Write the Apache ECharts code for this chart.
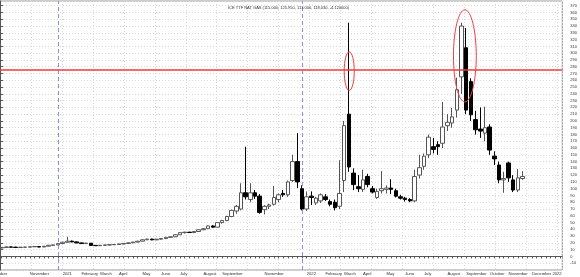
<!DOCTYPE html>
<html><head><meta charset="utf-8">
<script src="https://cdn.jsdelivr.net/npm/echarts@6/dist/echarts.min.js"></script>
<style>html,body{margin:0;padding:0;background:#fff}#c{width:580px;height:277px}</style>
</head><body><div id="c"></div>
<script>
const titleText = 'ICE TTF NAT GAS (115.000, 125.950, 113.000, 118.030, -4.120000)';

// weekly bars (Friday dates)
const weeks = [
'2020-10-09','2020-10-16','2020-10-23','2020-10-30','2020-11-06','2020-11-13','2020-11-20','2020-11-27',
'2020-12-04','2020-12-11','2020-12-18','2020-12-25',
'2021-01-01','2021-01-08','2021-01-15','2021-01-22','2021-01-29','2021-02-05','2021-02-12','2021-02-19','2021-02-26',
'2021-03-05','2021-03-12','2021-03-19','2021-03-26','2021-04-02','2021-04-09','2021-04-16','2021-04-23','2021-04-30',
'2021-05-07','2021-05-14','2021-05-21','2021-05-28','2021-06-04','2021-06-11','2021-06-18','2021-06-25',
'2021-07-02','2021-07-09','2021-07-16','2021-07-23','2021-07-30','2021-08-06','2021-08-13','2021-08-20','2021-08-27',
'2021-09-03','2021-09-10','2021-09-17','2021-09-24','2021-10-01','2021-10-08','2021-10-15','2021-10-22','2021-10-29',
'2021-11-05','2021-11-12','2021-11-19','2021-11-26','2021-12-03','2021-12-10','2021-12-17','2021-12-24','2021-12-31',
'2022-01-07','2022-01-14','2022-01-21','2022-01-28','2022-02-04','2022-02-11','2022-02-18','2022-02-25',
'2022-03-04','2022-03-11','2022-03-18','2022-03-25','2022-04-01','2022-04-08','2022-04-15','2022-04-22','2022-04-29',
'2022-05-06','2022-05-13','2022-05-20','2022-05-27','2022-06-03','2022-06-10','2022-06-17','2022-06-24',
'2022-07-01','2022-07-08','2022-07-15','2022-07-22','2022-07-29','2022-08-05','2022-08-12','2022-08-19','2022-08-26',
'2022-09-02','2022-09-09','2022-09-16','2022-09-23','2022-09-30','2022-10-07','2022-10-14','2022-10-21','2022-10-28',
'2022-11-04','2022-11-11','2022-11-18','2022-11-25'
];
const opens = [
12.5,13.3,14.0,13.7,13.3,13.6,13.8,14.3,14.6,13.9,15.1,16.5,
17.0,19.0,21.0,22.5,21.5,20.0,19.0,19.6,16.3,
15.9,16.5,16.9,17.3,17.7,18.4,19.2,20.1,21.2,
22.5,24.6,25.6,24.5,25.5,26.4,28.2,29.0,
32.0,35.2,35.8,35.3,36.8,39.4,41.0,45.0,43.2,
50.0,53.0,59.0,67.0,70.0,94.0,84.0,94.0,89.0,
69.0,74.0,77.0,84.0,93.0,91.0,112.0,140.0,100.0,
70.0,89.0,79.0,82.0,88.0,81.0,80.0,74.0,
112.0,210.0,123.0,103.0,99.0,118.0,100.0,87.0,97.0,
99.0,101.0,97.0,88.0,86.0,84.0,82.0,120.0,
133.0,150.0,162.0,165.0,167.0,193.0,197.0,216.0,265.0,
308.0,258.0,202.0,188.0,182.0,191.0,148.0,135.0,113.0,
138.0,113.0,98.0,115.0
];
const highs = [
13.6,14.3,14.4,14.2,13.9,14.0,14.6,14.9,14.9,15.3,16.8,17.3,
19.3,21.5,29.0,23.5,22.0,20.5,20.2,19.8,16.8,
16.8,17.2,17.6,17.9,18.6,19.5,20.4,21.6,22.9,
25.0,26.0,26.1,25.9,26.8,28.5,29.4,32.5,
35.6,36.5,36.4,37.2,39.8,41.5,45.6,46.0,50.5,
54.0,60.0,69.0,76.0,108.0,162.0,108.0,98.0,92.0,
76.0,78.0,104.0,93.0,98.0,112.0,150.0,182.0,105.0,
96.0,96.0,88.0,93.0,92.0,84.0,84.0,142.0,
200.0,345.0,130.0,120.0,128.0,122.0,104.0,100.0,126.0,
105.0,114.0,100.0,91.0,88.0,86.0,128.0,150.0,
152.0,180.0,175.0,170.0,228.0,210.0,219.0,264.0,345.0,
337.0,263.0,215.0,220.0,221.0,195.0,155.0,140.0,125.0,
140.0,120.0,129.0,125.95
];
const lows = [
12.3,13.0,13.4,12.9,12.9,13.2,13.5,14.0,13.5,13.8,15.0,16.2,
16.9,18.8,20.5,20.8,19.6,18.5,18.6,16.0,15.5,
15.6,16.1,16.4,17.0,17.4,18.0,18.9,19.8,21.0,
22.3,24.2,24.0,24.3,25.0,26.0,27.8,28.8,
31.8,33.8,34.5,35.0,36.5,38.8,40.6,42.5,42.8,
48.5,52.0,58.0,63.0,68.0,84.0,80.0,85.0,63.0,
62.0,70.0,75.0,80.0,88.0,88.0,110.0,101.0,68.0,
67.0,76.0,76.0,79.0,82.0,74.0,68.0,70.0,
95.0,125.0,98.0,95.0,95.0,102.0,93.0,85.0,93.0,
93.0,92.0,87.0,84.0,81.0,80.0,80.0,115.0,
128.0,145.0,152.0,150.0,160.0,185.0,190.0,205.0,240.0,
210.0,200.0,180.0,175.0,170.0,150.0,135.0,108.0,94.0,
110.0,95.0,95.0,113.0
];
const closes = [
13.3,14.0,13.7,13.3,13.6,13.8,14.3,14.6,13.9,15.1,16.5,17.0,
19.0,21.0,22.5,21.5,20.0,19.0,19.6,16.3,15.9,
16.5,16.9,17.3,17.7,18.4,19.2,20.1,21.2,22.5,
24.6,25.6,24.5,25.5,26.4,28.2,29.0,32.0,
35.2,35.8,35.3,36.8,39.4,41.0,45.0,43.2,50.0,
53.0,59.0,68.0,74.0,94.0,88.0,94.0,89.0,65.0,
74.0,76.0,87.0,91.0,91.0,110.0,140.0,110.0,70.0,
88.0,87.0,86.0,91.0,84.0,77.0,72.0,93.0,
193.0,132.0,106.0,100.0,113.0,106.0,95.0,96.0,100.0,
101.0,99.0,89.0,86.0,84.0,82.0,118.0,131.0,
148.0,176.0,158.0,162.0,191.0,198.0,206.0,246.0,340.0,
216.0,209.0,187.0,185.0,190.0,157.0,144.0,113.0,115.0,
116.0,98.0,116.0,118.03
];

// axis tick labels (placed at the first weekly bar of each month)
const monthTicks = ['2020-09-25','2020-11-20','2021-01-08','2021-02-05','2021-03-05','2021-04-02','2021-05-07','2021-06-04',
  '2021-07-02','2021-08-06','2021-09-03','2021-11-05','2022-01-07','2022-02-04','2022-03-04','2022-04-01',
  '2022-05-06','2022-06-03','2022-07-01','2022-08-05','2022-09-02','2022-10-07','2022-11-04','2022-12-09'];
const monthNames = ['October','November','2021','February','March','April','May','June',
  'July','August','September','November','2022','February','March','April',
  'May','June','July','August','September','October','November','December 2022'];

const yearMarks = ['2021-01-01','2022-01-01'];
const resistanceLevel = 275;
// circled areas: [fromDate, toDate, lowValue, highValue]
const circledFrom = ['2022-03-04','2022-08-14'];
const circledTo   = ['2022-03-19','2022-09-17'];
const circledLow  = [245, 228];
const circledHigh = [302, 364];

const ts = (s, h) => { const p = s.split('-').map(Number); return new Date(p[0], p[1]-1, p[2], h || 0, 0).getTime(); };
const xMin = ts('2020-10-06', 14.2);
const xMax = ts('2023-01-23', 9.6);
const DAY = 86400000;

const tickVals = [];
for (let t = ts(weeks[0]); t <= xMax; t += 7 * DAY) tickVals.push(t);
const labelMap = {};
monthTicks.forEach((d, i) => { labelMap[ts(d)] = monthNames[i]; });
const inRangeLabels = monthTicks.map(d => ts(d)).filter(t => t >= xMin && t <= xMax);

const FONT = 'Liberation Sans, Arial, sans-serif';
const GRID = '#dadada';
const chart = echarts.init(document.getElementById('c'), null, {renderer: 'canvas'});
chart.setOption({
  animation: false,
  backgroundColor: '#fff',
  title: {
    text: titleText, left: 223, top: 1,
    textStyle: {fontSize: 4, fontWeight: 'normal', color: '#333', fontFamily: FONT}
  },
  grid: {left: 0, right: 17, top: 1, bottom: 7, show: true, borderColor: '#999', borderWidth: 1, backgroundColor: '#fff'},
  xAxis: [{
    type: 'value', min: xMin, max: xMax, scale: true,
    axisLine: {show: true, lineStyle: {color: '#555', width: 1}},
    axisTick: {show: true, customValues: tickVals, length: 2, lineStyle: {color: '#555'}},
    axisLabel: {
      customValues: inRangeLabels, hideOverlap: false,
      formatter: v => labelMap[v] || '',
      align: 'left', margin: 2, fontSize: 4.2, color: '#333', fontFamily: FONT
    },
    splitLine: {show: false}
  }, {
    type: 'value', min: 0, max: 563, interval: 31, position: 'top',
    axisLine: {show: false}, axisTick: {show: false}, axisLabel: {show: false},
    splitLine: {show: true, lineStyle: {type: [1, 2], color: GRID, width: 1}}
  }],
  yAxis: {
    type: 'value', position: 'right', min: -20, max: 377, interval: 10,
    axisLine: {show: true, lineStyle: {color: '#555', width: 1}},
    axisTick: {show: true, length: 3, lineStyle: {color: '#555'}},
    axisLabel: {showMinLabel: false, showMaxLabel: false, margin: 8, fontSize: 4, color: '#333', fontFamily: FONT},
    splitLine: {show: true, lineStyle: {type: [1, 2], color: GRID, width: 1}}
  },
  series: [{
    type: 'line', data: [], z: 1, silent: true,
    xAxisIndex: 0, yAxisIndex: 0,
    markLine: {
      silent: true, symbol: ['none', 'none'], label: {show: false}, animation: false, z: 1,
      data: yearMarks.map(d => ({xAxis: ts(d), lineStyle: {color: '#8c8cf5', type: [4, 3], width: 1}}))
    }
  }, {
    type: 'candlestick',
    xAxisIndex: 0, yAxisIndex: 0, z: 3,
    barWidth: 4,
    dimensions: ['date', 'open', 'close', 'lowest', 'highest'],
    encode: {x: 0, y: [1, 2, 3, 4]},
    data: weeks.map((d, i) => [ts(d), opens[i], closes[i], lows[i], highs[i]]),
    itemStyle: {color: '#ffffff', color0: '#000000', borderColor: '#555555', borderColor0: '#000000', borderWidth: 1},
    markLine: {
      silent: true, symbol: ['none', 'none'], label: {show: false}, animation: false,
      data: [{yAxis: resistanceLevel, lineStyle: {color: '#ef3b3b', type: 'solid', width: 1.5}}]
    }
  }]
});

const toPx = (t, v) => chart.convertToPixel({xAxisIndex: 0, yAxisIndex: 0}, [t, v]);
const graphics = circledFrom.map((d, i) => {
  const a = toPx(ts(d), circledHigh[i]);
  const b = toPx(ts(circledTo[i]), circledLow[i]);
  return {
    type: 'ellipse', silent: true, z: 100,
    shape: {cx: (a[0] + b[0]) / 2, cy: (a[1] + b[1]) / 2, rx: Math.abs(b[0] - a[0]) / 2, ry: Math.abs(b[1] - a[1]) / 2},
    style: {fill: 'none', stroke: '#ef4040', lineWidth: 1}
  };
});
monthTicks.forEach((d, i) => {
  const t = ts(d);
  if (t < xMin) {
    const p = toPx(t, -20);
    graphics.push({type: 'text', silent: true, x: p[0], y: p[1] + 2,
      style: {text: monthNames[i], fontSize: 4.2, fill: '#333', fontFamily: FONT, align: 'left', verticalAlign: 'top'}});
  }
});
chart.setOption({graphic: graphics});
</script></body></html>
